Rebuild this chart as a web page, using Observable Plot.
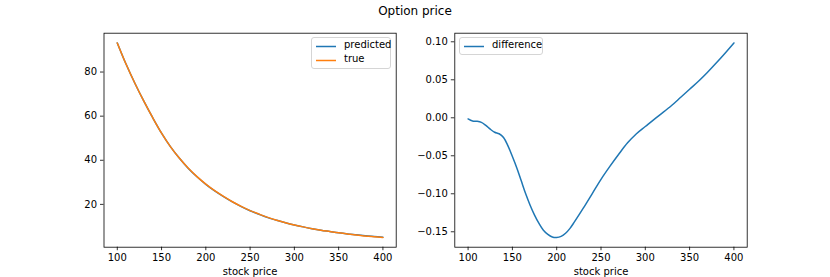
<!DOCTYPE html>
<html>
<head>
<meta charset="utf-8">
<script src="https://cdn.jsdelivr.net/npm/d3@7"></script>
<script src="https://cdn.jsdelivr.net/npm/@observablehq/plot@0.6"></script>
<style>
  html, body { margin: 0; padding: 0; background: #fff; }
  #fig { position: relative; width: 830px; height: 277px; font-family: "DejaVu Sans", sans-serif; color: #000; overflow: hidden; }
  #title { position: absolute; left: 0; width: 830px; top: 3px; text-align: center; font-size: 12px; line-height: 16px; }
  .panel { position: absolute; }
  .legend { position: absolute; box-sizing: border-box; border: 1px solid #d5d5d5; border-radius: 3px; background: rgba(255,255,255,0.8); font-size: 10px; }
  .entry { position: absolute; white-space: nowrap; line-height: 12px; }
</style>
</head>
<body>
<div id="fig">
  <div id="title">Option price</div>
</div>
<script>
// ---- data ----
const stockPrice = [100,110,120,130,140,150,160,170,180,190,200,210,220,230,240,250,260,270,280,290,300,310,320,330,340,350,360,370,380,390,400];
const truePrice  = [93.2,83.5,74.8,66.8,59.3,52.3,46.2,41.0,36.5,32.6,29.2,26.2,23.6,21.2,19.1,17.2,15.6,14.1,12.8,11.7,10.7,9.8,9.0,8.3,7.7,7.1,6.6,6.1,5.7,5.3,5.0];
const predictedPrice = [93.2,83.5,74.8,66.8,59.3,52.3,46.2,41.0,36.4,32.5,29.1,26.1,23.5,21.1,19.0,17.1,15.5,14.0,12.8,11.7,10.7,9.8,9.0,8.3,7.7,7.1,6.6,6.2,5.8,5.4,5.1];

const diffX = [100,105,110,115,120,125,130,135,140,145,150,155,160,165,170,175,180,185,190,195,200,205,210,215,220,230,240,250,260,270,280,290,300,310,320,330,340,350,360,370,380,390,400];
const diffY = [-0.0015,-0.0042,-0.0046,-0.006,-0.010,-0.015,-0.019,-0.021,-0.026,-0.037,-0.051,-0.066,-0.083,-0.100,-0.115,-0.128,-0.139,-0.148,-0.1535,-0.1568,-0.1575,-0.156,-0.152,-0.1455,-0.137,-0.119,-0.100,-0.081,-0.064,-0.048,-0.033,-0.021,-0.0115,-0.002,0.007,0.0165,0.027,0.0375,0.048,0.0595,0.072,0.085,0.0985];

const xTicks = [100,150,200,250,300,350,400];
const leftYTicks = [20,40,60,80];
const rightYTicks = [-0.15,-0.10,-0.05,0.00,0.05,0.10];
const xLabel = "stock price";

const BLUE = "#1f77b4", ORANGE = "#ff7f0e";

const rows = stockPrice.map((s, i) => ({s, t: truePrice[i], p: predictedPrice[i]}));
const drows = diffX.map((s, i) => ({s, d: diffY[i]}));

function padded(vals) {
  const [a, b] = d3.extent(vals); const p = (b - a) * 0.05; return [a - p, b + p];
}
const xDom = padded(stockPrice);

const fig = document.getElementById("fig");
const common = {
  style: {fontFamily: "DejaVu Sans, sans-serif", fontSize: "10px", color: "#000", background: "transparent", overflow: "visible"}
};

// ---- left panel ----
const left = Plot.plot({
  ...common,
  width: 355, height: 252,
  marginLeft: 48.5, marginRight: 14.3, marginTop: 7.7, marginBottom: 30.3,
  x: {domain: xDom},
  y: {domain: padded(truePrice.concat(predictedPrice))},
  marks: [
    Plot.line(rows, {x: "s", y: "p", stroke: BLUE, strokeWidth: 1.5, curve: "catmull-rom"}),
    Plot.line(rows, {x: "s", y: "t", stroke: ORANGE, strokeWidth: 1.5, curve: "catmull-rom"}),
    Plot.axisX({ticks: xTicks, tickSize: 3.5, tickPadding: 3.5, strokeWidth: 0.8, fontSize: 10,
      label: xLabel, labelAnchor: "center", labelArrow: "none", labelOffset: 28}),
    Plot.axisY({ticks: leftYTicks, tickSize: 3.5, tickPadding: 3.5, strokeWidth: 0.8, fontSize: 10, label: null}),
    Plot.frame({stroke: "#000", strokeWidth: 0.8})
  ]
});
left.classList.add("panel");
left.style.left = "55px"; left.style.top = "25px";
fig.appendChild(left);

// ---- right panel ----
const right = Plot.plot({
  ...common,
  width: 345, height: 252,
  marginLeft: 44.3, marginRight: 8.3, marginTop: 7.7, marginBottom: 30.3,
  x: {domain: padded(diffX)},
  y: {domain: padded(diffY)},
  marks: [
    Plot.line(drows, {x: "s", y: "d", stroke: BLUE, strokeWidth: 1.5, curve: "catmull-rom"}),
    Plot.axisX({ticks: xTicks, tickSize: 3.5, tickPadding: 3.5, strokeWidth: 0.8, fontSize: 10,
      label: xLabel, labelAnchor: "center", labelArrow: "none", labelOffset: 28}),
    Plot.axisY({ticks: rightYTicks, tickFormat: d3.format(".2f"), tickSize: 3.5, tickPadding: 3.5, strokeWidth: 0.8, fontSize: 10, label: null}),
    Plot.frame({stroke: "#000", strokeWidth: 0.8})
  ]
});
right.classList.add("panel");
right.style.left = "410px"; right.style.top = "25px";
fig.appendChild(right);

// ---- legends ----
function legend(x, y, w, h, entries) {
  const box = document.createElement("div");
  box.className = "legend";
  Object.assign(box.style, {left: x + "px", top: y + "px", width: w + "px", height: h + "px"});
  entries.forEach((e, i) => {
    const row = document.createElement("div");
    row.className = "entry";
    row.style.left = "3px"; row.style.top = (2 + i * 14) + "px";
    row.innerHTML = `<svg width="22" height="12" style="vertical-align:top"><line x1="1" x2="21" y1="6.5" y2="6.5" stroke="${e.color}" stroke-width="1.5"/></svg><span style="margin-left:7px;position:relative;top:-1px">${e.label}</span>`;
    box.appendChild(row);
  });
  fig.appendChild(box);
}
legend(311, 37, 80, 32, [{label: "predicted", color: BLUE}, {label: "true", color: ORANGE}]);
legend(459, 37, 84, 18, [{label: "difference", color: BLUE}]);
</script>
</body>
</html>
